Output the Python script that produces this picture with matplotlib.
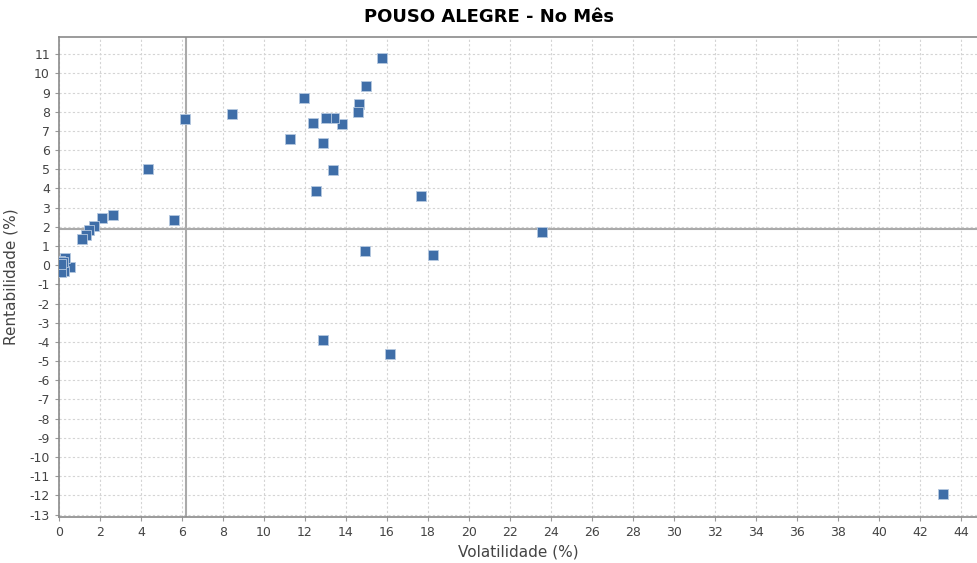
import matplotlib
matplotlib.use("Agg")
import matplotlib.pyplot as plt
import numpy as np

plt.rcParams["axes.unicode_minus"] = False

volatilidade = [43.1, 23.56, 18.24, 17.66, 16.15, 15.76, 14.98, 14.93, 14.63, 14.59,
                13.80, 13.41, 13.02, 13.37, 12.88, 12.88, 12.39, 12.54, 11.95, 11.27,
                8.44, 6.15, 5.61, 4.34, 2.63, 2.10, 1.71, 1.46, 1.32, 1.12,
                0.54, 0.30, 0.15, 0.15, 0.25, 0.05, 0.10, 0.20, 0.08]
rentabilidade = [-11.94, 1.72, 0.52, 3.60, -4.64, 10.79, 9.33, 0.73, 8.39, 7.98,
                 7.35, 7.66, 7.66, 4.95, 6.36, -3.91, 7.40, 3.86, 8.71, 6.57,
                 7.87, 7.61, 2.35, 5.00, 2.61, 2.45, 2.03, 1.82, 1.56, 1.36,
                 -0.10, 0.36, 0.00, -0.26, -0.30, 0.20, -0.35, 0.15, 0.05]
media_vol = 6.2
media_rent = 1.88

x_ticks = list(range(0, 45, 2))
y_ticks = list(range(-13, 12, 1))

fig = plt.figure(figsize=(9.78, 5.63), dpi=100)
ax = fig.add_axes([59/978, 1 - 517/563, (978 - 59)/978, (517 - 37)/563])

ax.set_xlim(0, (978 - 59) / 20.5)
ax.set_ylim(-13.13, 11.9)
ax.set_xticks(x_ticks)
ax.set_yticks(y_ticks)
ax.grid(True, color="#d4d4d4", linestyle=(0, (2, 2)), linewidth=0.8)
ax.set_axisbelow(True)

ax.axvline(media_vol, color="#aaaaaa", linewidth=1.5, zorder=2)
ax.axhline(media_rent, color="#aaaaaa", linewidth=1.5, zorder=2)

ax.scatter(volatilidade, rentabilidade, marker="s", s=46, color="#3f6ea8",
           edgecolors="#b5c8e0", linewidths=0.6, zorder=3)

ax.spines["right"].set_visible(False)
for s in ["top", "left", "bottom"]:
    ax.spines[s].set_color("#8a8a8a")
    ax.spines[s].set_linewidth(1.2)

ax.tick_params(axis="both", colors="#999999", labelcolor="#444444", labelsize=9, length=3)
ax.set_xlabel("Volatilidade (%)", fontsize=11, color="#444444")
ax.set_ylabel("Rentabilidade (%)", fontsize=11, color="#444444", labelpad=8)
fig.suptitle("POUSO ALEGRE - No Mês", fontsize=13, fontweight="bold", y=0.985)

fig.savefig("out.png", dpi=100)
